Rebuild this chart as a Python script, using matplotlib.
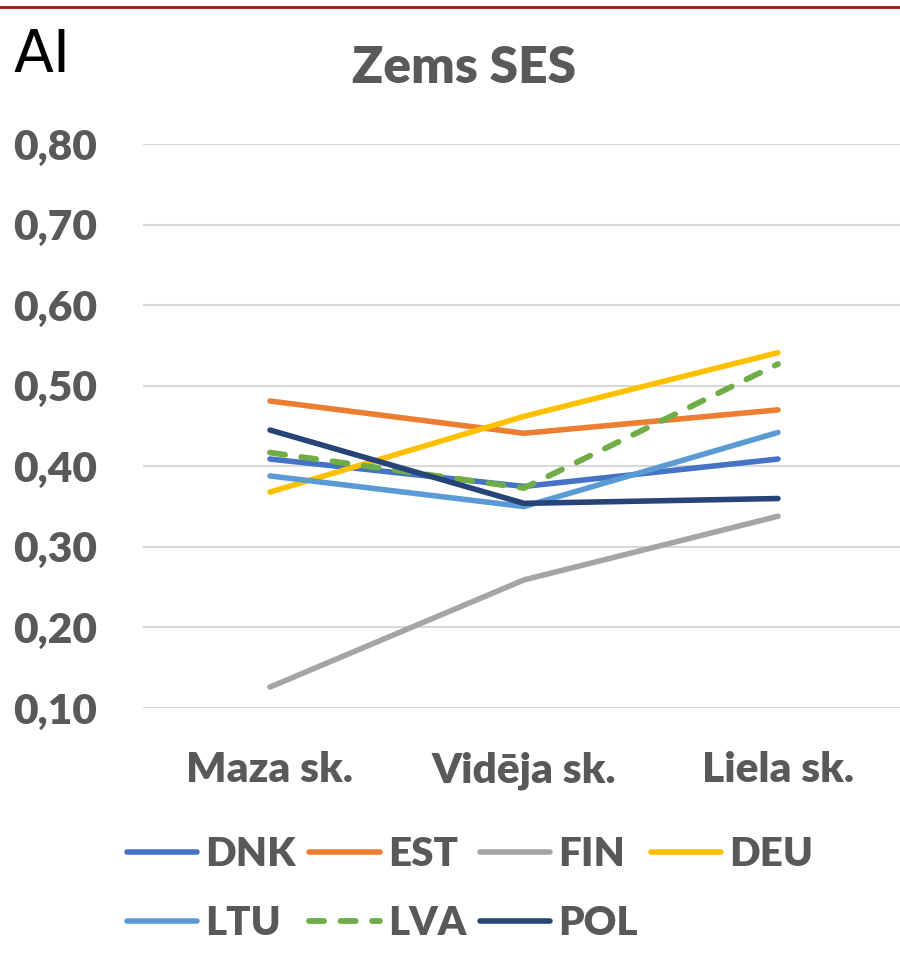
import matplotlib
matplotlib.use("Agg")
import matplotlib.pyplot as plt
from matplotlib.lines import Line2D
from matplotlib.ticker import FixedLocator, FuncFormatter

# school size groups (low SES)
categories = ["Maza sk.", "Vidēja sk.", "Liela sk."]
countries = ["DNK", "EST", "FIN", "DEU", "LTU", "LVA", "POL"]

dnk = [0.409, 0.375, 0.409]
est = [0.481, 0.441, 0.470]
fin = [0.126, 0.259, 0.338]
deu = [0.368, 0.462, 0.541]
ltu = [0.388, 0.350, 0.442]
lva = [0.417, 0.373, 0.527]
pol = [0.445, 0.354, 0.360]

series = [dnk, est, fin, deu, ltu, lva, pol]
colors = ["#4472C4", "#ED7D31", "#A5A5A5", "#FFC000", "#5B9BD5", "#70AD47", "#264478"]
y_ticks = [0.10, 0.20, 0.30, 0.40, 0.50, 0.60, 0.70, 0.80]

txt_color = "#595959"
font = "Lato"

fig = plt.figure(figsize=(9, 9.66), dpi=100)
ax = fig.add_axes([143 / 900, 1 - 708 / 966, 762 / 900, (708 - 144) / 966])

x = list(range(len(categories)))
handles = {}
for name, vals, col in zip(countries, series, colors):
    if name == "LVA":
        ln, = ax.plot(x, vals, color=col, lw=4.2, dashes=(2.6, 2.8),
                      dash_capstyle="round", solid_capstyle="round", label=name, zorder=3)
    else:
        ln, = ax.plot(x, vals, color=col, lw=4.0, solid_capstyle="round",
                      label=name, zorder=3)
    handles[name] = ln

ax.set_xlim(-0.5, 2.5)
ax.set_ylim(0.10, 0.80)
ax.yaxis.set_major_locator(FixedLocator(y_ticks))
ax.yaxis.set_major_formatter(FuncFormatter(lambda v, p: f"{v:.2f}".replace(".", ",")))
ax.set_xticks(x)
ax.set_xticklabels(categories)

for s in ax.spines.values():
    s.set_visible(False)
ax.grid(axis="y", color="#D9D9D9", lw=1.5)
ax.set_axisbelow(True)
ax.tick_params(length=0)
ax.tick_params(axis="y", pad=33)
ax.tick_params(axis="x", pad=31)
for lab in ax.get_xticklabels() + ax.get_yticklabels():
    lab.set_fontfamily(font)
    lab.set_fontweight("heavy")
    lab.set_fontsize(30.5)
    lab.set_color(txt_color)

fig.text(0.5 + 14 / 900, 1 - 68 / 966, "Zems SES", ha="center", va="center",
         fontsize=37, fontweight="heavy", color=txt_color, family=font)
fig.text(14 / 900, 1 - 56 / 966, "AI", ha="left", va="center",
         fontsize=42, color="black", family="Liberation Sans Narrow")

# thin red rule along the top edge
fig.add_artist(Line2D([0, 1], [1 - 7 / 966, 1 - 7 / 966], color="#A31515", lw=2))

# legend filled row by row like the original (matplotlib fills by column)
order = ["DNK", "LTU", "EST", "LVA", "FIN", "POL", "DEU"]
leg = fig.legend([handles[n] for n in order], order,
                 loc="upper left", bbox_to_anchor=(127 / 900, 1 - 836 / 966),
                 ncol=4, frameon=False, handlelength=1.75, handletextpad=0.2,
                 columnspacing=0.33, labelspacing=0.8, borderpad=0,
                 borderaxespad=0,
                 prop={"family": font, "weight": "heavy", "size": 29})
for t in leg.get_texts():
    t.set_color(txt_color)

fig.savefig("out.png", dpi=100)
